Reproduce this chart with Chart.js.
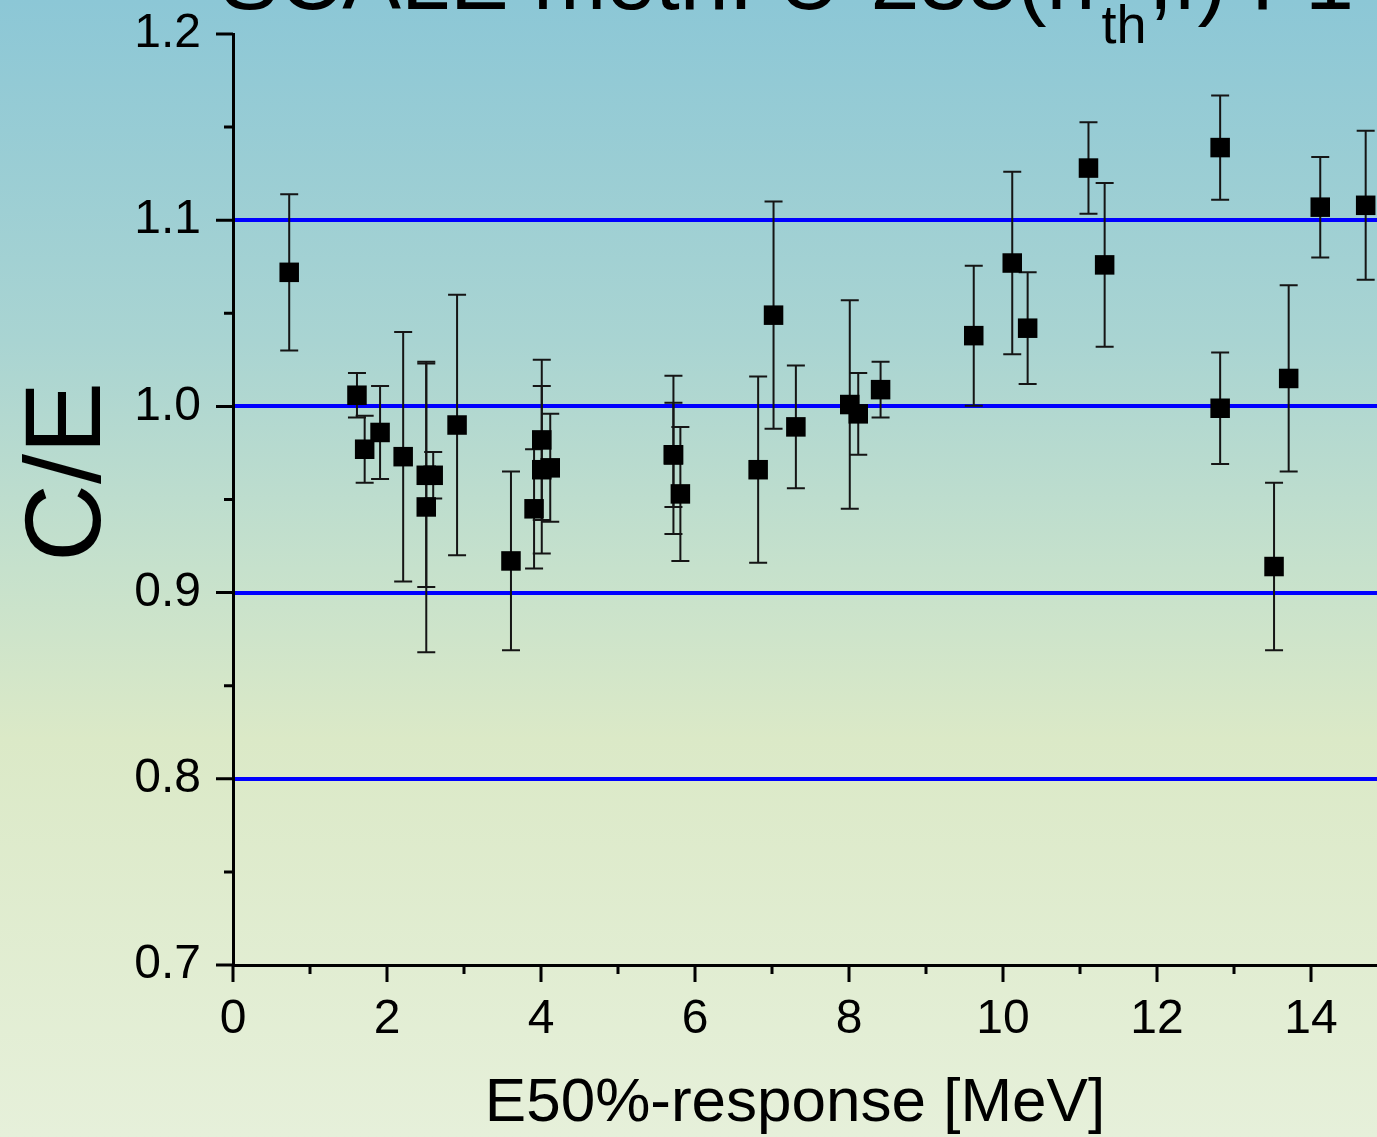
<!DOCTYPE html>
<html>
<head>
<meta charset="utf-8">
<script src="https://cdn.jsdelivr.net/npm/chart.js"></script>
<style>
  html, body { margin: 0; padding: 0; overflow: hidden; }
  canvas { display: block; }
</style>
</head>
<body>
<canvas id="ceChart" width="1377" height="1137"></canvas>
<script>
// E50%-response energies [MeV]
var energies = [0.73, 1.61, 1.71, 1.91, 2.21, 2.51, 2.51, 2.60, 2.91, 3.61, 3.91, 4.01, 4.01, 4.12,
  5.72, 5.72, 5.81, 6.82, 7.02, 7.31, 8.01, 8.12, 8.41, 9.62, 10.12, 10.32, 11.11, 11.32,
  12.82, 12.82, 13.52, 13.71, 14.12, 14.71];
// C/E ratios
var ceValues = [1.072, 1.006, 0.977, 0.986, 0.973, 0.963, 0.946, 0.963, 0.990, 0.917, 0.945, 0.982, 0.966, 0.967,
  0.974, 0.974, 0.953, 0.966, 1.049, 0.989, 1.001, 0.996, 1.009, 1.038, 1.077, 1.042, 1.128, 1.076,
  1.139, 0.999, 0.914, 1.015, 1.107, 1.108];
// symmetric uncertainties on C/E
var ceErrors = [0.042, 0.012, 0.018, 0.025, 0.067, 0.060, 0.078, 0.0125, 0.070, 0.048, 0.032, 0.043, 0.045, 0.029,
  0.0425, 0.028, 0.036, 0.050, 0.061, 0.033, 0.056, 0.022, 0.015, 0.0376, 0.049, 0.030, 0.0246, 0.044,
  0.028, 0.030, 0.045, 0.050, 0.027, 0.040];
var xTickValues = [0, 2, 4, 6, 8, 10, 12, 14];
var yTickValues = [0.7, 0.8, 0.9, 1.0, 1.1, 1.2];
var refLines = [0.8, 0.9, 1.0, 1.1];

var FONT = '"Liberation Sans", Arial, sans-serif';

var points = energies.map(function (e, i) { return { x: e, y: ceValues[i] }; });

var backgroundPlugin = {
  id: "bgGradient",
  beforeDraw: function (chart) {
    var ctx = chart.ctx, h = chart.height;
    var g = ctx.createLinearGradient(0, 0, 0, h);
    g.addColorStop(0, "#8cc7d6");
    g.addColorStop(0.3, "#a9d4d2");
    g.addColorStop(0.5, "#c6e1cc");
    g.addColorStop(0.65, "#dbe9c7");
    g.addColorStop(1, "#e6f0da");
    ctx.save();
    ctx.fillStyle = g;
    ctx.fillRect(0, 0, chart.width, h);
    ctx.restore();
  }
};

var errorBarPlugin = {
  id: "errorBars",
  beforeDatasetsDraw: function (chart) {
    var ctx = chart.ctx, xs = chart.scales.x, ys = chart.scales.y;
    ctx.save();
    ctx.strokeStyle = "#151515";
    ctx.lineWidth = 2;
    for (var i = 0; i < energies.length; i++) {
      var px = xs.getPixelForValue(energies[i]);
      var top = ys.getPixelForValue(ceValues[i] + ceErrors[i]);
      var bot = ys.getPixelForValue(ceValues[i] - ceErrors[i]);
      ctx.beginPath();
      ctx.moveTo(px, top); ctx.lineTo(px, bot);
      ctx.moveTo(px - 9, top); ctx.lineTo(px + 9, top);
      ctx.moveTo(px - 9, bot); ctx.lineTo(px + 9, bot);
      ctx.stroke();
    }
    ctx.restore();
  }
};

var decorPlugin = {
  id: "decor",
  afterDraw: function (chart) {
    var ctx = chart.ctx, xs = chart.scales.x, ys = chart.scales.y, a = chart.chartArea;
    ctx.save();
    // tick marks, major and minor, pointing outward
    ctx.strokeStyle = "#000";
    ctx.lineWidth = 3;
    ctx.beginPath();
    for (var v = 0; v <= 14; v++) {
      var px = xs.getPixelForValue(v);
      ctx.moveTo(px, a.bottom);
      ctx.lineTo(px, a.bottom + (v % 2 === 0 ? 17 : 9));
    }
    for (var k = 0; k <= 10; k++) {
      var yv = 0.7 + k * 0.05;
      var py = ys.getPixelForValue(yv);
      ctx.moveTo(a.left, py);
      ctx.lineTo(a.left - (k % 2 === 0 ? 17 : 9), py);
    }
    ctx.stroke();

    ctx.fillStyle = "#000";
    // axis titles
    ctx.font = "62px " + FONT;
    ctx.textAlign = "center";
    ctx.textBaseline = "alphabetic";
    ctx.fillText("E50%-response [MeV]", 795, 1121);
    ctx.save();
    ctx.translate(100, 472);
    ctx.rotate(-Math.PI / 2);
    ctx.font = "108px " + FONT;
    ctx.fillText("C/E", 0, 0);
    ctx.restore();

    // plot title with subscript
    ctx.textAlign = "left";
    ctx.font = "88px " + FONT;
    var t1 = "SCALE meth. U-235(n";
    var x0 = 220;
    ctx.fillText(t1, x0, 9);
    var w1 = ctx.measureText(t1).width;
    ctx.font = "54px " + FONT;
    ctx.fillText("th", x0 + w1 + 6, 43);
    var w2 = ctx.measureText("th").width;
    ctx.font = "88px " + FONT;
    ctx.fillText(",f) F1", x0 + w1 + w2 + 8, 9);
    ctx.restore();
  }
};

new Chart(document.getElementById("ceChart"), {
  type: "scatter",
  data: {
    datasets: [{
      label: "C/E",
      data: points,
      pointStyle: "rect",
      pointRadius: 13.8,
      pointHoverRadius: 13.8,
      backgroundColor: "#000",
      borderColor: "#000",
      borderWidth: 0,
      showLine: false
    }]
  },
  options: {
    responsive: false,
    animation: false,
    layout: { autoPadding: false, padding: { top: 34, right: 0, left: 0, bottom: 0 } },
    plugins: { legend: { display: false }, tooltip: { enabled: false } },
    scales: {
      x: {
        type: "linear",
        min: 0,
        max: 14.857,
        afterBuildTicks: function (s) { s.ticks = xTickValues.map(function (v) { return { value: v }; }); },
        afterFit: function (s) { s.height = 172; s.paddingLeft = 0; s.paddingRight = 0; },
        ticks: { color: "#000", font: { size: 48, family: FONT }, padding: 26, maxRotation: 0 },
        grid: { display: true, drawOnChartArea: false, drawTicks: false },
        border: { display: true, color: "#000", width: 3 }
      },
      y: {
        type: "linear",
        min: 0.7,
        max: 1.2,
        afterBuildTicks: function (s) { s.ticks = yTickValues.map(function (v) { return { value: v }; }); },
        afterFit: function (s) { s.width = 233; s.paddingTop = 0; s.paddingBottom = 0; },
        ticks: {
          color: "#000", font: { size: 48, family: FONT }, padding: 32,
          callback: function (v) { return v.toFixed(1); }
        },
        grid: {
          drawTicks: false,
          lineWidth: 4,
          color: function (c) {
            var val = c.tick ? c.tick.value : null;
            for (var i = 0; i < refLines.length; i++) {
              if (val !== null && Math.abs(val - refLines[i]) < 1e-6) return "#0000ff";
            }
            return "rgba(0,0,0,0)";
          }
        },
        border: { display: true, color: "#000", width: 3 }
      }
    }
  },
  plugins: [backgroundPlugin, errorBarPlugin, decorPlugin]
});
</script>
</body>
</html>
